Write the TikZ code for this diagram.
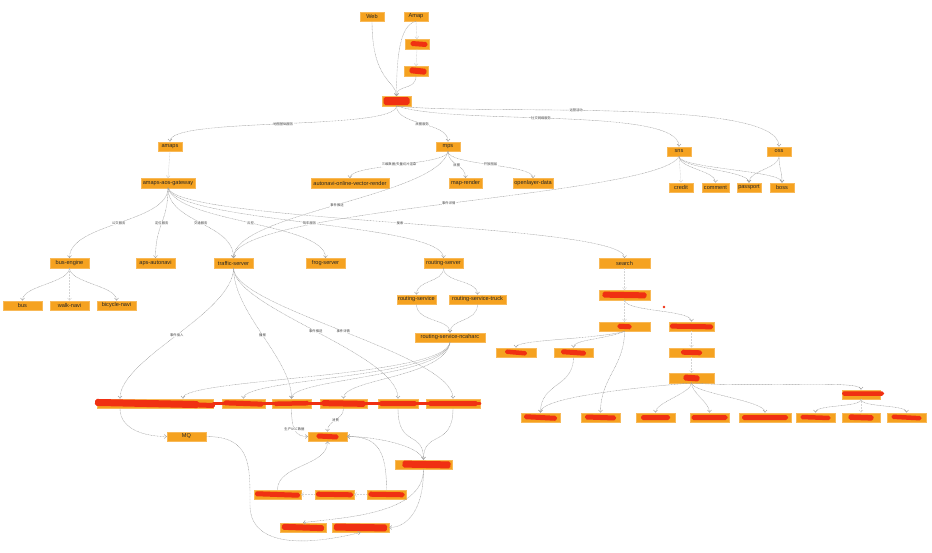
\documentclass[tikz,border=0pt]{standalone}
\usepackage{fontspec}
\setmainfont{Liberation Sans}
\newfontfamily\cjk{Noto Sans CJK SC}
\usetikzlibrary{arrows.meta,calc}
\definecolor{orng}{RGB}{245,162,32}
\definecolor{scol}{RGB}{240,48,18}
\definecolor{ecol}{RGB}{160,160,160}
\tikzset{
 bx/.style={fill=orng, draw=orng!75!white, line width=0.3pt, minimum width=#1, minimum height=9.5pt, inner sep=0pt, font=\fontsize{5.6}{6}\selectfont, text=black!85},
 bx/.default=24pt,
 ed/.style={draw=ecol, line width=0.4pt, dash pattern=on 0.9pt off 0.6pt, -{Straight Barb[length=2.2pt,width=3.8pt,line width=0.45pt]}},
 eds/.style={ed, draw=ecol!45!white},
 lb/.style={fill=white, inner sep=0.4pt, font=\cjk\fontsize{3.3}{3.5}\selectfont, text=black!75},
}
\newcommand\scrib[4]{\begin{scope}[shift={(#1)},rotate=#4]\fill[scol,rounded corners=1.8pt](-#2/2,-#3/2)rectangle(#2/2,#3/2);\end{scope}}
\begin{document}
\begin{tikzpicture}[x=1pt,y=1pt]
\fill[white] (0,0) rectangle (932,-552);
\useasboundingbox (0,0) rectangle (932,-552);
% top
\node[bx] (web) at (372,-16.5) {Web};
\node[bx] (amap) at (416,-16.5) {Amap};
\node[bx] (r1) at (417,-44) {};
\node[bx] (r2) at (416,-71) {};
\node[bx=29pt] (E) at (396.5,-101) {};
\node[bx] (amaps) at (170,-146.5) {amaps};
\node[bx] (mps) at (448,-146.5) {mps};
\node[bx] (sns) at (679,-151.5) {sns};
\node[bx] (oss) at (779,-151.5) {oss};
\node[bx=54pt] (gw) at (168,-183) {amaps-aos-gateway};
\node[bx=78pt] (avr) at (350,-183) {autonavi-online-vector-render};
\node[bx=33pt] (maprender) at (465.5,-183) {map-render};
\node[bx=40pt] (openlayer) at (533,-183) {openlayer-data};
\node[bx] (credit) at (681,-187.5) {credit};
\node[bx=27pt] (comment) at (715.5,-187.5) {comment};
\node[bx] (passport) at (749,-187.5) {passport};
\node[bx] (boss) at (782,-187.5) {boss};
% second level
\node[bx=39pt] (busengine) at (69.5,-263) {bus-engine};
\node[bx=39pt] (aps) at (155.5,-263) {aps-autonavi};
\node[bx=39pt] (traffic) at (233.5,-263) {traffic-server};
\node[bx=39pt] (frog) at (325.5,-263) {frog-server};
\node[bx=39pt] (routing) at (443.5,-263) {routing-server};
\node[bx=51pt] (search) at (624.5,-263) {search};
\node[bx=39pt] (bus) at (22.5,-305.5) {bus};
\node[bx=39pt] (walk) at (69.5,-305.5) {walk-navi};
\node[bx=39pt] (bicycle) at (116.5,-305.5) {bicycle-navi};
\node[bx=39pt] (rsvc) at (416.5,-299.5) {routing-service};
\node[bx=57pt] (rtruck) at (477.5,-299.5) {routing-service-truck};
\node[bx=70pt] (nc) at (450,-337.5) {routing-service-ncaharc};
% search side
\node[bx=51pt] (s1) at (624.5,-295) {};
\node[bx=51pt] (s2l) at (624.5,-326.5) {};
\node[bx=45pt] (s2r) at (691.5,-326.5) {};
\node[bx=40pt] (s3a) at (516,-352.5) {};
\node[bx=39pt] (s3b) at (573.5,-352.5) {};
\node[bx=45pt] (s3r) at (691.5,-352.5) {};
\node[bx=45pt] (s4) at (691.5,-378) {};
\node[bx=38pt] (s4r) at (861,-394.5) {};
\node[bx=39pt] (b1) at (540.5,-417.5) {};
\node[bx=39pt] (b2) at (600.5,-417.5) {};
\node[bx=39pt] (b3) at (655.5,-417.5) {};
\node[bx=39pt] (b4) at (709.5,-417.5) {};
\node[bx=52pt] (b5) at (765,-417.5) {};
\node[bx=39pt] (b6) at (815.5,-417.5) {};
\node[bx=38pt] (b7) at (861,-417.5) {};
\node[bx=39pt] (b8) at (906.5,-417.5) {};
% lower left
\node[bx=116pt] (rowA) at (155,-403.5) {};
\node[bx=43pt] (rowB) at (243.5,-403.5) {};
\node[bx=39pt] (rowC) at (291.5,-403.5) {};
\node[bx=47pt] (rowD) at (343.5,-403.5) {};
\node[bx=40pt] (rowE) at (398,-403.5) {};
\node[bx=54pt] (rowF) at (453,-403.5) {};
\node[bx=39pt] (MQ) at (186.5,-436.5) {MQ};
\node[bx=39pt] (ctr) at (327.5,-436.5) {};
\node[bx=57pt] (rn) at (423.5,-464.5) {};
\node[bx=47pt] (q1) at (277.5,-494.5) {};
\node[bx=39pt] (q2) at (334.5,-494.5) {};
\node[bx=39pt] (q3) at (386.5,-494.5) {};
\node[bx=46pt] (z1) at (303,-527.5) {};
\node[bx=57pt] (z2) at (360.5,-527.5) {};
\coordinate (mqw) at (250,-505);

% scribbles
\scrib{E}{26}{8}{0}
\scrib{$(r1)+(2,0)$}{17}{5}{-4}
\scrib{$(r2)+(2,0)$}{17}{6}{-6}
\scrib{s1}{44}{6}{-1}
\scrib{s2l}{14}{5}{-3}
\scrib{s2r}{43}{5}{-1}
\scrib{s3a}{22}{4.5}{-5}
\scrib{s3b}{25}{5}{-4}
\scrib{s3r}{21}{5}{-2}
\scrib{s4}{16}{6}{-4}
\scrib{$(s4r)+(2,1)$}{42}{4.5}{0}
\scrib{b1}{33}{5}{-3}
\scrib{b2}{31}{5}{-2}
\scrib{b3}{29}{5}{0}
\scrib{b4}{36}{5}{0}
\scrib{b5}{46}{5}{0}
\scrib{b6}{30}{4.5}{-2}
\scrib{b7}{25}{5.5}{-2}
\scrib{b8}{30}{4.5}{-3}
\scrib{ctr}{22}{5}{-3}
\scrib{$(rn)+(3,0)$}{48}{7}{-1}
\scrib{q1}{45}{5}{-2}
\scrib{q2}{37}{5}{-1}
\scrib{q3}{36}{5}{-1}
\scrib{z1}{42}{6}{-2}
\scrib{z2}{53}{7}{-1}
\scrib{$(rowA)+(-8,0)$}{104}{7}{-1.2}
\scrib{$(rowA)+(30,-1)$}{60}{5}{-2}
\scrib{rowB}{40}{5}{-2}
\scrib{rowC}{36}{4.5}{1}
\scrib{rowD}{44}{6}{-1}
\scrib{rowE}{38}{5}{0}
\scrib{rowF}{50}{5}{0}
\draw[scol,line width=2.6pt,line cap=round] (rowA.east) -- (rowF.east);
\fill[scol] (664,-307) circle (1.3pt);

% top edges
\draw[ed] (web.south) .. controls +(0,-60) and +(0,15) .. (E.north);
\draw[eds] (amap.south) -- (r1.north);
\draw[ed] (amap.south) .. controls +(-16,-3) and +(0,40) .. (E.north);
\draw[eds] (r1.south) -- (r2.north);
\draw[ed] (r2.south) .. controls +(0,-15) and +(0,12) .. (E.north);
\draw[ed] (E.south) .. controls +(0,-25) and +(0,25) .. (amaps.north) node[lb,pos=0.5]{地图基础服务};
\draw[ed] (E.south) .. controls +(0,-20) and +(0,20) .. (mps.north) node[lb,pos=0.5]{底图服务};
\draw[ed] (E.south) .. controls +(60,-20) and +(0,40) .. (sns.north) node[lb,pos=0.45]{社交网络服务};
\draw[ed] (E.south) .. controls +(80,-10) and +(0,50) .. (oss.north) node[lb,pos=0.42]{运营活动};
\draw[eds] (amaps.south) -- (gw.north);
\draw[ed] (mps.south) .. controls +(0,-14) and +(0,14) .. (avr.north) node[lb,pos=0.5]{三维数据/矢量切片渲染};
\draw[ed] (mps.south) .. controls +(0,-14) and +(0,14) .. (maprender.north) node[lb,pos=0.5]{底图};
\draw[ed] (mps.south) .. controls +(0,-14) and +(0,14) .. (openlayer.north) node[lb,pos=0.5]{开放图层};
\draw[ed] (mps.south) .. controls +(-10,-45) and +(0,45) .. (traffic.north) node[lb,pos=0.5]{事件推送};
\draw[ed] (sns.south) .. controls +(-20,-40) and +(0,50) .. (traffic.north) node[lb,pos=0.5]{事件详情};
\draw[eds] (sns.south) -- (credit.north);
\draw[ed] (sns.south) .. controls +(0,-12) and +(0,12) .. (comment.north);
\draw[ed] (sns.south) .. controls +(0,-12) and +(0,12) .. (passport.north);
\draw[ed] (sns.south) .. controls +(0,-12) and +(0,12) .. (boss.north);
\draw[ed] (oss.south) .. controls +(0,-12) and +(0,12) .. (passport.north);
\draw[ed] (oss.south) .. controls +(0,-12) and +(0,12) .. (boss.north);
% gateway edges
\draw[ed] (gw.south) .. controls +(0,-35) and +(0,35) .. (busengine.north) node[lb,pos=0.5]{公交服务};
\draw[ed] (gw.south) .. controls +(0,-35) and +(0,35) .. (aps.north) node[lb,pos=0.5]{定位服务};
\draw[ed] (gw.south) .. controls +(0,-35) and +(0,35) .. (traffic.north) node[lb,pos=0.5]{交通服务};
\draw[ed] (gw.south) .. controls +(10,-35) and +(0,35) .. (frog.north) node[lb,pos=0.5]{云控};
\draw[ed] (gw.south) .. controls +(10,-35) and +(0,35) .. (routing.north) node[lb,pos=0.5]{驾车服务};
\draw[ed] (gw.south) .. controls +(10,-35) and +(0,35) .. (search.north) node[lb,pos=0.5]{搜索};
% bus-engine
\draw[ed] (busengine.south) .. controls +(0,-15) and +(0,15) .. (bus.north);
\draw[eds] (busengine.south) -- (walk.north);
\draw[ed] (busengine.south) .. controls +(0,-15) and +(0,15) .. (bicycle.north);
% routing
\draw[ed] (routing.south) .. controls +(0,-15) and +(0,15) .. (rsvc.north);
\draw[ed] (routing.south) .. controls +(0,-15) and +(0,15) .. (rtruck.north);
\draw[ed] (rsvc.south) .. controls +(0,-18) and +(0,14) .. (nc.north);
\draw[ed] (rtruck.south) .. controls +(0,-18) and +(0,14) .. (nc.north);
\draw[ed] (nc.south) .. controls +(-5,-35) and +(0,20) .. ([xshift=28pt]rowA.north);
\draw[ed] (nc.south) .. controls +(-5,-35) and +(0,20) .. (rowB.north);
\draw[ed] (nc.south) .. controls +(-5,-35) and +(0,20) .. (rowC.north);
\draw[ed] (nc.south) .. controls +(-5,-35) and +(0,20) .. (rowD.north);
% traffic
\draw[ed] (traffic.south) .. controls +(0,-45) and +(0,40) .. ([xshift=-35pt]rowA.north) node[lb,pos=0.5]{事件接入};
\draw[ed] (traffic.south) .. controls +(0,-45) and +(0,40) .. (rowC.north) node[lb,pos=0.5]{播报};
\draw[ed] (traffic.south) .. controls +(0,-40) and +(0,45) .. (rowE.north) node[lb,pos=0.5]{事件推送};
\draw[ed] (traffic.south) .. controls +(0,-40) and +(0,45) .. (rowF.north) node[lb,pos=0.5]{事件详情};
% lower left
\draw[ed] ([xshift=-35pt]rowA.south) .. controls +(0,-22) and +(-20,0) .. (MQ.west);
\draw[ed] (MQ.east) .. controls +(45,0) and +(0,40) .. (mqw) .. controls +(0,-40) and +(-60,-15) .. (z2.south);
\draw[ed] (rowC.south) .. controls +(0,-22) and +(-12,0) .. (ctr.west) node[lb,pos=0.45]{生产UGC数据};
\draw[ed] (rowD.south) .. controls +(0,-12) and +(0,12) .. (ctr.north) node[lb,pos=0.5]{消费};
\draw[ed] (rowE.south) .. controls +(0,-40) and +(0,30) .. (rn.north);
\draw[ed] (rowF.south) .. controls +(0,-40) and +(0,30) .. (rn.north);
\draw[ed] (rn.north) .. controls +(-5,15) and +(25,0) .. (ctr.east);
\draw[ed] (q3.north) .. controls +(0,40) and +(30,0) .. (ctr.east);
\draw[eds] (q3.west) -- (q2.east);
\draw[eds] (q2.west) -- (q1.east);
\draw[ed] (q1.north) .. controls +(0,25) and +(0,-25) .. (ctr.south);
\draw[ed] (rn.south) .. controls +(0,-45) and +(40,5) .. (z1.north);
\draw[ed] (rn.south) .. controls +(0,-45) and +(15,0) .. (z2.east);
% search
\draw[eds] (search.south) -- (s1.north);
\draw[eds] (s1.south) -- (s2l.north);
\draw[ed] (s1.south) .. controls +(0,-12) and +(0,12) .. (s2r.north);
\draw[ed] (s2l.south) .. controls +(-30,-8) and +(0,8) .. (s3a.north);
\draw[ed] (s2l.south) .. controls +(-20,-8) and +(0,8) .. (s3b.north);
\draw[ed] (s2l.south) .. controls +(0,-35) and +(0,35) .. (b2.north);
\draw[ed] (s3b.south) .. controls +(0,-30) and +(0,30) .. (b1.north);
\draw[eds] (s2r.south) -- (s3r.north);
\draw[eds] (s3r.south) -- (s4.north);
\draw[ed] (s4.south) .. controls +(-60,-5) and +(0,15) .. (b1.north);
\draw[ed] (s4.south) .. controls +(0,-10) and +(0,10) .. (b3.north);
\draw[ed] (s4.south) .. controls +(0,-10) and +(0,10) .. (b4.north);
\draw[ed] (s4.south) .. controls +(0,-10) and +(0,12) .. (b5.north);
\draw[ed] (s4.south) .. controls +(60,-5) and +(0,10) .. (s4r.north);
\draw[ed] (s4r.south) .. controls +(0,-8) and +(0,8) .. (b6.north);
\draw[eds] (s4r.south) -- (b7.north);
\draw[ed] (s4r.south) .. controls +(0,-8) and +(0,8) .. (b8.north);
\end{tikzpicture}
\end{document}
